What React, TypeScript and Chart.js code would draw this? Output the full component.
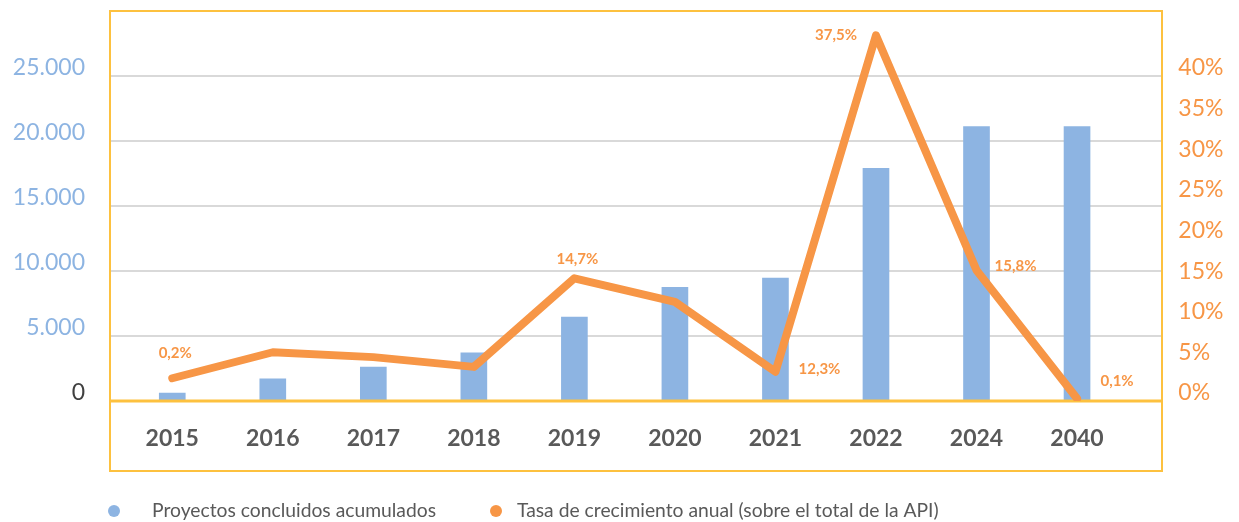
import { useEffect, useRef } from "react";
import { Chart, registerables } from "chart.js";

Chart.register(...registerables);

// ---------- data ----------
const categories = ["2015", "2016", "2017", "2018", "2019", "2020", "2021", "2022", "2024", "2040"];
const projectsAccumulated = [600, 1700, 2600, 3700, 6450, 8750, 9450, 17900, 21100, 21100];
const growthRate = [2.8, 6.0, 5.4, 4.2, 15.1, 12.2, 3.6, 45.0, 16.1, 0.3];
const growthLabels = ["0,2%", "", "", "", "14,7%", "", "12,3%", "37,5%", "15,8%", "0,1%"];
const leftTicks = [0, 5000, 10000, 15000, 20000, 25000];
const rightTicks = [0, 5, 10, 15, 20, 25, 30, 35, 40];
const gridValues = [5000, 10000, 15000, 20000, 25000, 30000];
const seriesNames = ["Proyectos concluidos acumulados", "Tasa de crecimiento anual (sobre el total de la API)"];

// ---------- styles ----------
const BLUE = "#8db4e2";
const ORANGE = "#f79646";
const GOLD = "#fdc13f";
const GRID = "#d9d9d9";
const TEXT = "#595959";
const ZERO_TEXT = "#404040";
const FONT = "Lato";
const W = 1239;
const H = 522;
const FRAME = { left: 110, right: 1162, top: 11, bottom: 471 };
// label offsets (px) relative to each line point
const labelOffsets: [number, number][] = [
  [3, -25], [0, 0], [0, 0], [0, 0], [3, -19], [0, 0], [44, -3], [-40, 0], [39, -4], [40, -17],
];

const fmtThousands = (v: number) => String(v).replace(/\B(?=(\d{3})+(?!\d))/g, ".");

const framePlugin = {
  id: "framePlugin",
  beforeDatasetsDraw(chart: any) {
    const { ctx, scales } = chart;
    ctx.save();
    ctx.strokeStyle = GRID;
    ctx.lineWidth = 2;
    for (const v of gridValues) {
      const y = Math.round(scales.y.getPixelForValue(v));
      ctx.beginPath();
      ctx.moveTo(FRAME.left, y);
      ctx.lineTo(FRAME.right, y);
      ctx.stroke();
    }
    ctx.strokeStyle = GOLD;
    ctx.lineWidth = 2;
    ctx.strokeRect(FRAME.left, FRAME.top, FRAME.right - FRAME.left, FRAME.bottom - FRAME.top);
    ctx.restore();
  },
  afterDatasetDraw(chart: any, args: any) {
    if (args.index !== 1) return;
    const { ctx, scales } = chart;
    const y = scales.y.getPixelForValue(0);
    ctx.save();
    ctx.strokeStyle = GOLD;
    ctx.lineWidth = 3;
    ctx.beginPath();
    ctx.moveTo(FRAME.left - 1, y);
    ctx.lineTo(FRAME.right + 1, y);
    ctx.stroke();
    ctx.restore();
  },
  afterDatasetsDraw(chart: any) {
    const { ctx } = chart;
    const meta = chart.getDatasetMeta(0);
    ctx.save();
    ctx.fillStyle = ORANGE;
    ctx.font = `bold 15px ${FONT}`;
    ctx.textAlign = "center";
    ctx.textBaseline = "middle";
    meta.data.forEach((pt: any, i: number) => {
      const txt = growthLabels[i];
      if (!txt) return;
      const [dx, dy] = labelOffsets[i];
      ctx.fillText(txt, pt.x + dx, pt.y + dy);
    });
    ctx.restore();
  },
  afterDraw(chart: any) {
    const { ctx } = chart;
    const items = [
      { color: BLUE, text: seriesNames[0], dot: 114, tx: 152 },
      { color: ORANGE, text: seriesNames[1], dot: 496, tx: 517 },
    ];
    ctx.save();
    ctx.font = `19.3px ${FONT}`;
    ctx.textBaseline = "middle";
    ctx.textAlign = "left";
    for (const it of items) {
      ctx.fillStyle = it.color;
      ctx.beginPath();
      ctx.arc(it.dot, 511, 6, 0, Math.PI * 2);
      ctx.fill();
      ctx.fillStyle = TEXT;
      ctx.fillText(it.text, it.tx, 511);
    }
    ctx.restore();
  },
};

export default function App() {
  const ref = useRef<HTMLCanvasElement | null>(null);
  useEffect(() => {
    if (!ref.current) return;
    Chart.defaults.font.family = FONT;
    const chart = new Chart(ref.current, {
      type: "bar",
      data: {
        labels: categories,
        datasets: [
          {
            type: "line",
            label: seriesNames[1],
            data: growthRate,
            yAxisID: "y1",
            borderColor: ORANGE,
            backgroundColor: ORANGE,
            borderWidth: 8,
            pointRadius: 0,
            borderCapStyle: "round",
            borderJoinStyle: "round",
            tension: 0,
            order: 0,
          } as any,
          {
            type: "bar",
            label: seriesNames[0],
            data: projectsAccumulated,
            yAxisID: "y",
            backgroundColor: BLUE,
            barThickness: 26,
            order: 1,
          } as any,
        ],
      },
      options: {
        responsive: false,
        animation: false,
        layout: { padding: { top: FRAME.top, left: 0, right: 0, bottom: 0 } },
        plugins: { legend: { display: false }, tooltip: { enabled: false } },
        scales: {
          x: {
            type: "category",
            offset: true,
            grid: { display: false, drawTicks: false },
            border: { display: false },
            ticks: { color: TEXT, font: { size: 23, weight: "bold", family: FONT }, padding: 24 },
            afterFit: (s: any) => {
              s.height = 121;
              s.paddingLeft = 0;
              s.paddingRight = 0;
            },
          },
          y: {
            position: "left",
            min: 0,
            max: 30000,
            grid: { display: false, drawTicks: false },
            border: { display: false },
            afterBuildTicks: (s: any) => {
              s.ticks = leftTicks.map((v) => ({ value: v }));
            },
            ticks: {
              color: (c: any) => (c.tick && c.tick.value === 0 ? ZERO_TEXT : BLUE),
              font: { size: 23, family: FONT },
              padding: 37,
              labelOffset: -8,
              callback: (v: any) => fmtThousands(Number(v)),
            },
            afterFit: (s: any) => {
              s.width = 122;
              s.paddingTop = 0;
              s.paddingBottom = 0;
            },
          },
          y1: {
            position: "right",
            min: 0,
            max: 48,
            grid: { display: false, drawTicks: false },
            border: { display: false },
            afterBuildTicks: (s: any) => {
              s.ticks = rightTicks.map((v) => ({ value: v }));
            },
            ticks: {
              color: ORANGE,
              font: { size: 23, family: FONT },
              padding: 51,
              labelOffset: -8,
              callback: (v: any) => `${v}%`,
            },
            afterFit: (s: any) => {
              s.width = W - 1127.3;
              s.paddingTop = 0;
              s.paddingBottom = 0;
            },
          },
        },
      } as any,
      plugins: [framePlugin],
    });
    return () => chart.destroy();
  }, []);
  return (
    <canvas
      ref={ref}
      width={W}
      height={H}
      style={{ position: "fixed", left: 0, top: 0, width: W, height: H, display: "block" }}
    />
  );
}
